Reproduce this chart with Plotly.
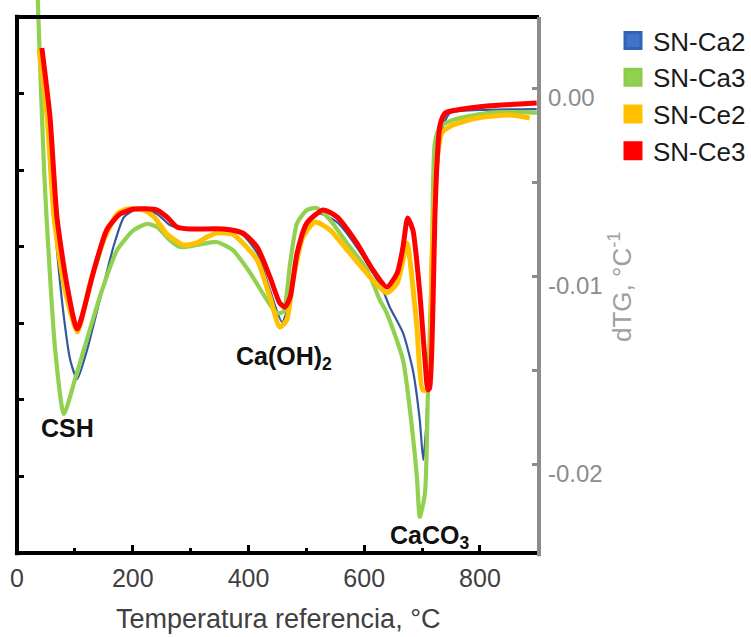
import plotly.graph_objects as go

# ---------------- data ----------------
T_ca2 = [40, 52, 64, 81, 92, 104, 121, 143, 168, 185, 207, 242, 264, 289, 356, 390, 415, 437, 458, 472,
         484, 501, 518, 553, 587, 632, 644, 667, 684, 696, 702, 707, 717, 726, 734, 748, 800, 898]
V_ca2 = [0.0021, -0.00154, -0.00686, -0.01218, -0.01447, -0.01548, -0.01394, -0.01128, -0.00830, -0.00686,
         -0.00644, -0.00670, -0.00729, -0.00750, -0.00755, -0.00782, -0.00878, -0.01074, -0.01245, -0.01128,
         -0.00904, -0.00729, -0.00665, -0.00713, -0.00846, -0.01074, -0.01165, -0.01303, -0.01500, -0.01766,
         -0.01979, -0.01803, -0.01090, -0.00473, -0.00223, -0.00133, -0.00117, -0.00112]

T_ca3 = [35, 48, 66, 81, 100, 143, 173, 202, 225, 242, 264, 282, 311, 345, 373, 403, 432, 449, 460, 472,
         484, 501, 518, 541, 570, 605, 627, 639, 667, 679, 691, 696, 705, 710, 717, 722, 731, 753, 812, 869, 912]
V_ca3 = [0.0055, -0.00511, -0.01394, -0.01734, -0.01553, -0.01112, -0.00862, -0.00755, -0.00723, -0.00739,
         -0.00809, -0.00846, -0.00835, -0.00819, -0.00862, -0.00984, -0.01128, -0.01197, -0.01191, -0.00931,
         -0.00718, -0.00649, -0.00638, -0.00702, -0.00824, -0.00968, -0.01128, -0.01197, -0.01447, -0.01713,
         -0.02069, -0.02282, -0.02154, -0.01622, -0.00915, -0.00293, -0.00207, -0.00170, -0.00133, -0.00128,
         -0.00133]

T_ce2 = [38, 52, 64, 81, 104, 126, 150, 173, 190, 219, 237, 259, 288, 311, 328, 345, 373, 385, 415, 437,
         454, 466, 477, 494, 515, 541, 575, 610, 639, 657, 674, 679, 691, 701, 710, 717, 726, 734, 753, 795,
         852, 886]
V_ce2 = [0.00207, -0.00154, -0.00686, -0.01043, -0.01298, -0.01043, -0.00809, -0.00670, -0.00644, -0.00649,
         -0.00686, -0.00777, -0.00835, -0.00824, -0.00793, -0.00771, -0.00777, -0.00809, -0.00915, -0.01112,
         -0.01271, -0.01234, -0.01021, -0.00793, -0.00713, -0.00755, -0.00878, -0.01005, -0.01090, -0.01037,
         -0.00824, -0.00915, -0.01271, -0.01606, -0.01606, -0.00915, -0.00383, -0.00239, -0.00197, -0.00160,
         -0.00144, -0.00160]

T_ce3 = [43, 57, 69, 86, 104, 133, 155, 178, 202, 242, 259, 276, 299, 356, 390, 415, 437, 454, 463, 472,
         484, 501, 529, 553, 587, 615, 639, 657, 667, 675, 684, 696, 705, 710, 713, 719, 722, 726, 731, 740,
         760, 812, 869, 898]
V_ce3 = [0.00213, -0.00154, -0.00686, -0.01043, -0.01282, -0.00968, -0.00755, -0.00670, -0.00644, -0.00649,
         -0.00686, -0.00739, -0.00750, -0.00750, -0.00771, -0.00846, -0.01005, -0.01144, -0.01165, -0.01112,
         -0.00878, -0.00718, -0.00649, -0.00686, -0.00824, -0.00968, -0.01059, -0.00984, -0.00846, -0.00691,
         -0.00755, -0.01090, -0.01447, -0.01606, -0.01596, -0.01128, -0.00702, -0.00383, -0.00197, -0.00133,
         -0.00117, -0.00096, -0.00085, -0.00080]

series_names = ["SN-Ca2", "SN-Ca3", "SN-Ce2", "SN-Ce3"]
x_ticks = [0, 200, 400, 600, 800]
x_minor = [100, 300, 500, 700]
y_ticks = [0.0, -0.01, -0.02]
y_ticktext = ["0.00", "-0.01", "-0.02"]
y_minor = [-0.005, -0.015]
left_ticks = [1, 2, 3, 4, 5, 6]
peak_labels = ["<b>CSH</b>", "<b>Ca(OH)<sub>2</sub></b>", "<b>CaCO<sub>3</sub></b>"]
peak_T = [88, 462, 713]
peak_V = [-0.01809, -0.01436, -0.02388]

# ---------------- styling ----------------
FONT = "Liberation Sans, Arial, sans-serif"
line_colors = ["#34589F", "#92D050", "#FFC000", "#FF0000"]
line_widths = [2.2, 4.2, 5, 5]
legend_fill = ["#4472C4", "#92D050", "#FFC000", "#FF0000"]
legend_edge = ["#2E64B8", "#8CCB4C", "#FFC000", "#FF0000"]

fig = go.Figure()
data = [(T_ca2, V_ca2), (T_ca3, V_ca3), (T_ce2, V_ce2), (T_ce3, V_ce3)]
for (t, v), c, w, n in zip(data, line_colors, line_widths, series_names):
    fig.add_trace(go.Scatter(x=t, y=v, mode="lines", name=n, showlegend=False,
                             line=dict(color=c, width=w, shape="spline", smoothing=0.6),
                             hoverinfo="skip"))
for n, fc, ec in zip(series_names, legend_fill, legend_edge):
    fig.add_trace(go.Scatter(x=[None], y=[None], mode="markers", name=n,
                             marker=dict(symbol="square", size=16, color=fc, line=dict(color=ec, width=3))))
# dummy trace to activate the left (black) axis
fig.add_trace(go.Scatter(x=[None], y=[None], yaxis="y2", showlegend=False, hoverinfo="skip"))

TOP = 1 - 17 / 553
shapes = [
    dict(type="line", xref="paper", yref="paper", x0=0, x1=0, y0=-0.004, y1=TOP + 0.004,
         line=dict(color="black", width=4)),
    dict(type="line", xref="paper", yref="paper", x0=-0.004, x1=1, y0=TOP, y1=TOP,
         line=dict(color="black", width=4)),
    dict(type="line", xref="paper", yref="paper", x0=-0.004, x1=1, y0=0, y1=0,
         line=dict(color="black", width=4)),
    dict(type="line", xref="paper", yref="paper", x0=1, x1=1, y0=-0.006, y1=TOP,
         line=dict(color="#8c8c8c", width=4)),
]

annotations = []
for txt, t, v in zip(peak_labels, peak_T, peak_V):
    annotations.append(dict(x=t, y=v, xref="x", yref="y", text=txt, showarrow=False,
                            xanchor="center", yanchor="middle",
                            font=dict(family=FONT, size=25, color="#111111")))
annotations.append(dict(x=0.5, y=1 - 619 / 553, xref="paper", yref="paper",
                        text="Temperatura referencia, °C", showarrow=False,
                        xanchor="center", yanchor="middle",
                        font=dict(family=FONT, size=27, color="#404040")))
annotations.append(dict(x=(620 - 17) / 522, y=1 - 287 / 553, xref="paper", yref="paper",
                        text="dTG, °C<sup>-1</sup>", textangle=-90, showarrow=False,
                        xanchor="center", yanchor="middle",
                        font=dict(family=FONT, size=26, color="#a0a0a0")))

fig.update_layout(
    width=751, height=637,
    margin=dict(l=17, r=212, t=0, b=84, autoexpand=False),
    paper_bgcolor="white", plot_bgcolor="white",
    font=dict(family=FONT),
    showlegend=True,
    legend=dict(x=(613 - 17) / 522, y=1 - 17 / 553, xanchor="left", yanchor="top",
                font=dict(family=FONT, size=26, color="#1a1a1a"), bgcolor="rgba(0,0,0,0)",
                borderwidth=0),
    xaxis=dict(range=[0, 902], tickvals=x_ticks, ticks="inside", ticklen=8, tickwidth=3,
               tickcolor="black", showline=False, showgrid=False, zeroline=False, automargin=False,
               tickfont=dict(family=FONT, size=25, color="#404040"), ticklabelstandoff=8,
               minor=dict(tickvals=x_minor, ticks="inside", ticklen=5, tickwidth=3, tickcolor="black",
                          showgrid=False)),
    yaxis=dict(side="right", range=[-0.024734, 0.004681], tickvals=y_ticks, ticktext=y_ticktext,
               ticks="inside", ticklen=7, tickwidth=3, tickcolor="#8c8c8c", showline=False,
               showgrid=False, zeroline=False, ticklabelshift=10, ticklabelstandoff=8, automargin=False,
               tickfont=dict(family=FONT, size=24, color="#8c8c8c"),
               minor=dict(tickvals=y_minor, ticks="inside", ticklen=7, tickwidth=3, tickcolor="#8c8c8c",
                          showgrid=False)),
    yaxis2=dict(overlaying="y", side="left", range=[0, 553 / 76.6], tickvals=left_ticks,
                showticklabels=False, ticks="inside", ticklen=7, tickwidth=3, tickcolor="black",
                showline=False, showgrid=False, zeroline=False, automargin=False),
    shapes=shapes,
    annotations=annotations,
)

fig.write_html("out.html", config={"displayModeBar": False},
               post_script="document.body.style.margin='0';")
